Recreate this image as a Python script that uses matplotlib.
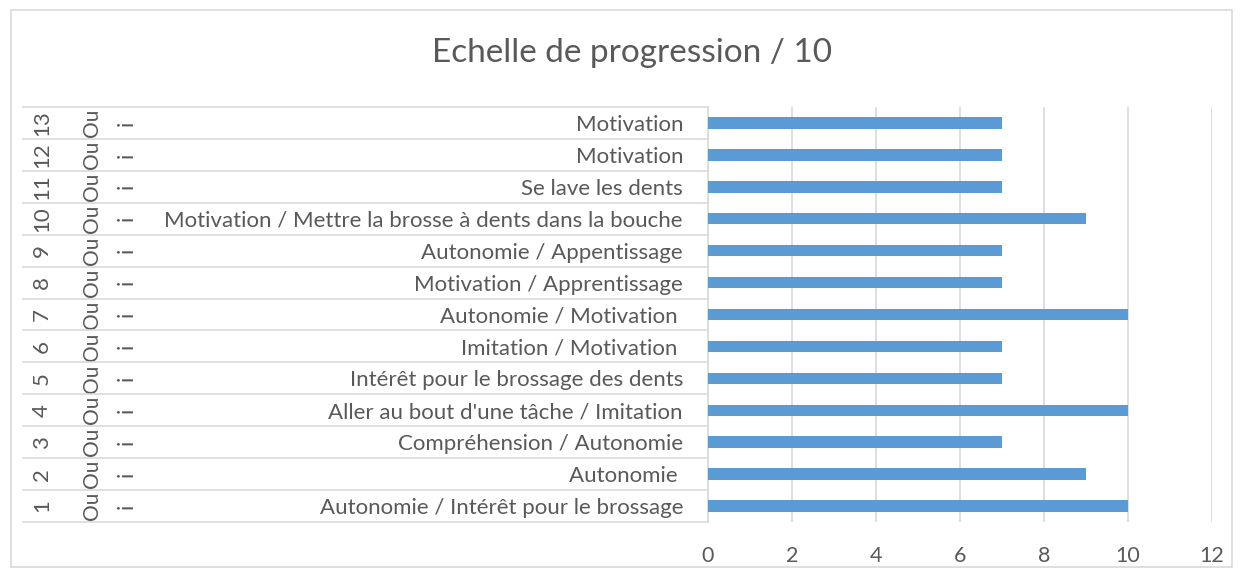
import matplotlib.pyplot as plt
from matplotlib.patches import Rectangle
from matplotlib.lines import Line2D
from matplotlib.transforms import blended_transform_factory

# ----- Data -----
row_ids = ["1", "2", "3", "4", "5", "6", "7", "8", "9", "10", "11", "12", "13"]
group_labels = ["Ou"] * 13
sub_labels = ["i"] * 13
skills = [
    "Autonomie / Intérêt pour le brossage",
    "Autonomie ",
    "Compréhension / Autonomie",
    "Aller au bout d'une tâche / Imitation",
    "Intérêt pour le brossage des dents",
    "Imitation / Motivation ",
    "Autonomie / Motivation ",
    "Motivation / Apprentissage",
    "Autonomie / Appentissage",
    "Motivation / Mettre la brosse à dents dans la bouche",
    "Se lave les dents",
    "Motivation",
    "Motivation",
]
scores = [10, 9, 7, 10, 7, 7, 10, 7, 7, 9, 7, 7, 7]
x_ticks = [0, 2, 4, 6, 8, 10, 12]

# ----- Style -----
W, H = 1242, 577
BAR = "#5B9BD5"
GRID = "#D9D9D9"
TXT = "#595959"
plt.rcParams["font.family"] = ["Lato", "DejaVu Sans"]

fig = plt.figure(figsize=(W / 100, H / 100), dpi=100)
fig.patch.set_facecolor("white")

# outer chart frame
fig.add_artist(Rectangle((11 / W, 1 - 567 / H), 1221 / W, 557 / H,
                         transform=fig.transFigure, fill=False,
                         edgecolor=GRID, lw=1.2))

# plot area in pixel terms
x0, x1 = 708, 1212
y_top, y_bot = 107, 522
ax = fig.add_axes([x0 / W, 1 - y_bot / H, (x1 - x0) / W, (y_bot - y_top) / H])

ypos = list(range(len(scores)))
ax.barh(ypos, scores, height=0.36, color=BAR, zorder=3)
ax.set_xlim(0, 12)
ax.set_ylim(-0.5, len(scores) - 0.5)
ax.set_xticks(x_ticks)
ax.set_xticklabels([str(t) for t in x_ticks], color=TXT, fontsize=15.5)
ax.tick_params(axis="x", length=0, pad=17)
ax.set_yticks([])
ax.grid(axis="x", color=GRID, lw=1.2, zorder=0)
for s in ("top", "right", "bottom"):
    ax.spines[s].set_visible(False)
ax.spines["left"].set_color(GRID)
ax.spines["left"].set_linewidth(1.2)

# multi-level category table on the left
tr = blended_transform_factory(fig.transFigure, ax.transData)
for b in [i - 0.5 for i in range(len(scores) + 1)]:
    fig.add_artist(Line2D([23 / W, x0 / W], [b, b], transform=tr,
                          color=GRID, lw=1.2, clip_on=False))
for i in ypos:
    ax.text(42 / W, i, row_ids[i], transform=tr, rotation=90,
            ha="center", va="center", fontsize=16, color=TXT)
    ax.text(92 / W, i, group_labels[i], transform=tr, rotation=90,
            ha="center", va="center", fontsize=15, color=TXT)
    ax.text(127 / W, i, sub_labels[i], transform=tr, rotation=90,
            ha="center", va="center", fontsize=16, color=TXT)
    ax.text(683 / W, i, skills[i], transform=tr,
            ha="right", va="center_baseline", fontsize=16, color=TXT)

fig.text(632 / W, 1 - 53 / H, "Echelle de progression / 10",
         ha="center", va="center", fontsize=24, color=TXT)

fig.savefig("out.png", dpi=100)
